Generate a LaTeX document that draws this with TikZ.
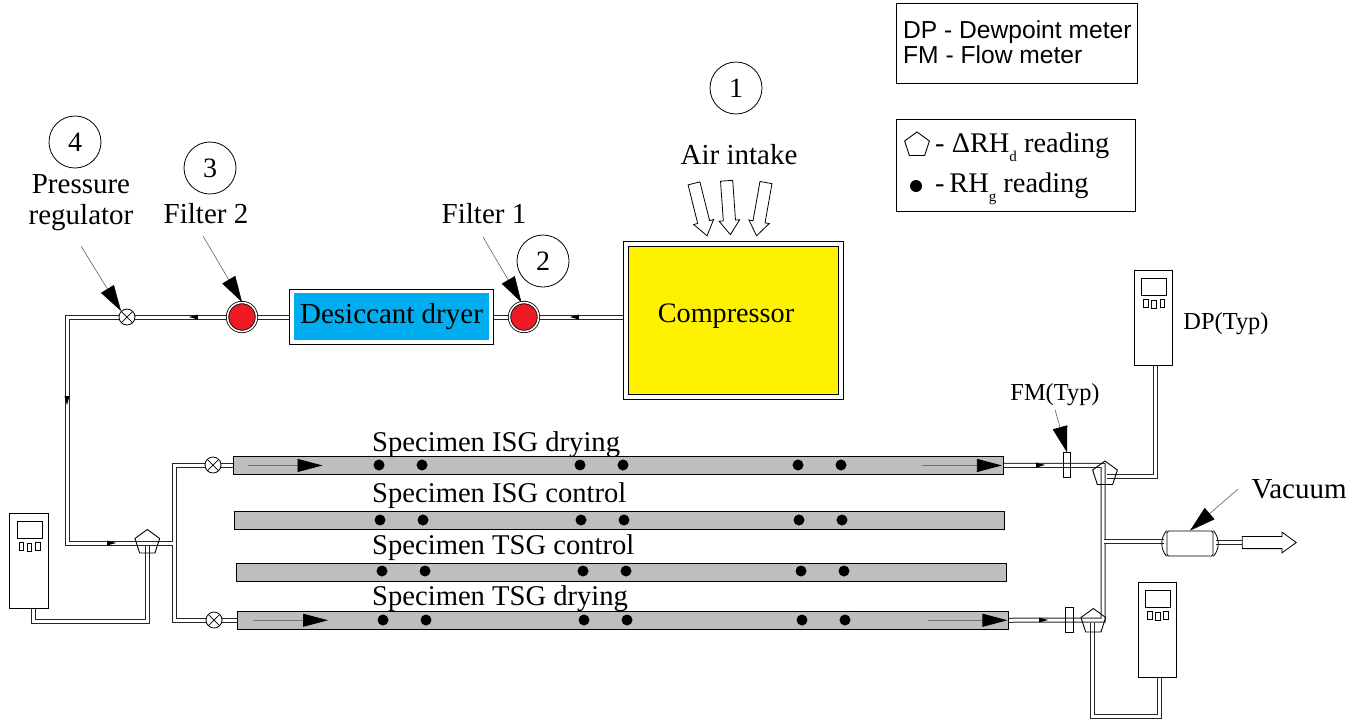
\documentclass[tikz,border=0pt]{standalone}
\usepackage{fontspec}
\setmainfont{Liberation Serif}
\setsansfont{Liberation Sans}
\usetikzlibrary{arrows.meta,shapes.geometric,shapes.arrows,backgrounds}
\definecolor{filterred}{HTML}{ED1C24}
\definecolor{dryerblue}{HTML}{00AEEF}
\definecolor{compyellow}{HTML}{FFF200}
\definecolor{tubegrey}{HTML}{BCBEC0}
\newcommand{\bigtext}{\fontsize{29}{31.5}\selectfont}
\newcommand{\lowsub}[1]{\raisebox{-.32em}{\fontsize{15}{15}\selectfont #1}}
\tikzset{
  every node/.style={font=\bigtext},
  pipe/.style={draw=black!85,line width=1,double=white,double distance=3},
  valve/.style={circle,draw,fill=white,line width=.8,minimum size=16,inner sep=0,
    path picture={\draw[line width=.7] (path picture bounding box.north west)--(path picture bounding box.south east)
      (path picture bounding box.north east)--(path picture bounding box.south west);}},
  filter/.style={circle,draw,fill=filterred,double,double distance=1.6,line width=.8,minimum size=29,inner sep=0},
  numcircle/.style={circle,draw,line width=.8,minimum size=52,inner sep=0,font=\fontsize{28}{30}\selectfont},
  pent/.style={regular polygon,regular polygon sides=5,draw,line width=.9,minimum size=26,inner sep=0},
  specimen/.style={rectangle,draw,line width=.9,fill=tubegrey,anchor=north west,inner sep=0},
  speclabel/.style={anchor=west,inner sep=0,font=\fontsize{28.6}{31}\selectfont},
  meterbox/.style={rectangle,draw,line width=.9,fill=white,minimum width=38.4,minimum height=94.6,inner sep=0,anchor=north west},
  meterpart/.style={rectangle,draw,line width=.9,inner sep=0,anchor=north west},
  flowmeter/.style={rectangle,draw,line width=.7,minimum width=7.4,minimum height=24.6,inner sep=0},
  outarrow/.style={single arrow,draw,line width=.8,fill=white,inner sep=5.7,single arrow head extend=4.2,
    single arrow tip angle=72,minimum height=54},
  flowmark/.style={isosceles triangle,fill=black,inner sep=0,minimum height=9,minimum width=5,isosceles triangle stretches},
  flowline/.style={draw=black!55,line width=.8,-{Triangle[length=25,width=13,color=black]}},
  leader/.style={draw=black!70,line width=.5,-{Triangle[length=26,width=15,color=black]}},
  legendbox/.style={rectangle,draw,line width=.7,anchor=north west,inner sep=0},
  legendtext/.style={anchor=west,inner sep=0,font=\fontsize{28.4}{30}\selectfont}
}
\begin{document}
\begin{tikzpicture}[x=1pt,y=-1pt]
    \useasboundingbox (0,0) rectangle (1367,721);

    \node[legendbox,minimum width=241,minimum height=80] (legA) at (896,3) {};
    \node[anchor=west,inner sep=0,align=left,font=\sffamily\fontsize{24.6}{25}\selectfont] (legAtext) at (903,42) {DP - Dewpoint meter\\FM - Flow meter};
    \node[legendbox,minimum width=239,minimum height=92] (legB) at (896,119) {};
    \node[pent] (legPent) at (917,145) {};
    \node[legendtext] (legTextA) at (935,147) {- ΔRH\lowsub{d} reading};
    \node[circle,fill=black,minimum size=12,inner sep=0] (legDot) at (916,186) {};
    \node[legendtext] (legTextB) at (935,189) {-\,RH\lowsub{g} reading};

    \node[numcircle] (numOne) at (736,88) {1};
    \node[numcircle] (numTwo) at (543,261) {2};
    \node[numcircle] (numThree) at (210,168) {3};
    \node[numcircle] (numFour) at (75,142) {4};

    \node (airLabel) at (739,155) {Air intake};
    \node[align=center] (regLabel) at (81,202.5) {Pressure\\regulator};
    \node (filterTwoLabel) at (206,214) {Filter 2};
    \node (filterOneLabel) at (484,214) {Filter 1};
    \node[font=\fontsize{24.4}{26}\selectfont] (dpLabel) at (1226,324) {DP(Typ)};
    \node[font=\fontsize{24.4}{26}\selectfont] (fmLabel) at (1055,395) {FM(Typ)};
    \node (vacLabel) at (1299,489) {Vacuum};

    \node[rectangle,draw,line width=.8,minimum width=220,minimum height=158,inner sep=0,anchor=north west] (compOuter) at (623,241) {};
    \node[rectangle,draw,line width=.8,fill=compyellow,minimum width=210,minimum height=148,inner sep=0] (compressor) at (compOuter.center) {};
    \node[font=\fontsize{28.2}{30}\selectfont] at (726,316.5) (compText) {Compressor};
    \node[rectangle,draw,line width=.8,minimum width=204,minimum height=55,inner sep=0,anchor=north west] (dryerOuter) at (289,289) {};
    \node[rectangle,fill=dryerblue,minimum width=195,minimum height=47,inner sep=0,font=\fontsize{29}{31}\selectfont] (dryer) at (391.5,316.5) {Desiccant dryer};

    \node[filter] (filterOne) at (524,317) {};
    \node[filter] (filterTwo) at (242,317) {};
    \node[valve] (valveReg) at (127,317) {};
    \node[valve] (valveTop) at (213,465) {};
    \node[valve] (valveBot) at (214,620) {};

    \node[specimen,minimum width=770.5,minimum height=18.6] (specA) at (232.5,455.7) {};
    \node[specimen,minimum width=770.5,minimum height=18.6] (specB) at (233.8,510.7) {};
    \node[specimen,minimum width=770.5,minimum height=18.6] (specC) at (235.5,562.5) {};
    \node[specimen,minimum width=770.5,minimum height=18.6] (specD) at (237,610.5) {};
    \node[speclabel] (labelA) at (372,445) {Specimen ISG drying};
    \node[speclabel] (labelB) at (372,496) {Specimen ISG control};
    \node[speclabel] (labelC) at (372,548) {Specimen TSG control};
    \node[speclabel] (labelD) at (372,599) {Specimen TSG drying};
    \foreach \y/\s in {465/0,520/1,571/3,620/4}
      \foreach \x in {379,422,580,623,798,841}
        \fill (\x+\s,\y) circle (5.5);
    \draw[flowline] ([xshift=15]specA.west) -- ++(75,0);
    \draw[flowline] ([xshift=-82]specA.east) -- ++(80,0);
    \draw[flowline] ([xshift=16]specD.west) -- ++(75,0);
    \draw[flowline] ([xshift=-80]specD.east) -- ++(79,0);

    \foreach \name/\mx/\my in {meterA/9.3/513,meterB/1134/270,meterC/1137.7/582.3}{
      \node[meterbox] (\name) at (\mx,\my) {};
      \node[meterpart,minimum width=25,minimum height=17] (\name scr) at (\mx+7.4,\my+8) {};
      \node[meterpart,minimum width=4.6,minimum height=8] (\name b1) at (\mx+9.4,\my+29) {};
      \node[meterpart,minimum width=4.6,minimum height=8] (\name b2) at (\mx+17.4,\my+30) {};
      \node[meterpart,minimum width=4.6,minimum height=8] (\name b3) at (\mx+25.6,\my+29) {};
    }

    \node[pent] (pentA) at (147.3,542.5) {};
    \node[pent] (pentB) at (1105,474) {};
    \node[pent] (pentC) at (1093.3,621.5) {};
    \node[flowmeter] (fmA) at (1067,465) {};
    \node[flowmeter] (fmB) at (1069.3,620) {};
    \node[rectangle,draw,line width=.8,fill=white,rounded corners=1.5,minimum width=46,minimum height=25,inner sep=0] (pump) at (1190,543.5) {};
    \draw[line width=.8] (pump.north west) to[bend right=40] (pump.south west);
    \draw[line width=.8] (pump.north east) to[bend left=40] (pump.south east);
    \node[outarrow] (outlet) at (1265,542.5) {};
    \node[outarrow,rotate=-76] (airA) at (699.5,205.5) {};
    \node[outarrow,rotate=-86] (airB) at (728.2,203.5) {};
    \node[outarrow,rotate=-100] (airC) at (762,205) {};

    \coordinate (cornerReg) at (67,543);
    \coordinate (teeInlet) at (172.7,543);
    \coordinate (cornerLeft) at (174,620);
    \coordinate (cornerRight) at (1103,620);
    \coordinate (teeVac) at (1104.3,541);
    \coordinate (meterAout) at (33,607.6);
    \coordinate (pentAin) at (147,545);
    \coordinate (meterBout) at (1155.4,364.6);
    \coordinate (pentBin) at (1107,476);
    \coordinate (meterCout) at (1159.5,676.9);
    \coordinate (pentCin) at (1092.4,623);
    \coordinate (leadReg) at (81,246);
    \coordinate (leadTwo) at (203,236);
    \coordinate (leadOne) at (483,237);
    \coordinate (leadVac) at (1238,489);

    \begin{scope}[on background layer]
      \draw[pipe] (filterOne) -- (filterOne -| compOuter.west);
      \draw[pipe] (filterOne) -- (filterOne -| dryerOuter.east);
      \draw[pipe] (filterTwo) -- (filterTwo -| dryerOuter.west);
      \draw[pipe] (filterTwo) -- (valveReg);
      \draw[pipe] (meterAout) -- ++(0,14.2) -| (pentAin);
      \draw[pipe] (valveTop.west) -| (cornerLeft) -- (valveBot.west);
      \draw[pipe] (valveReg.west) -| (cornerReg) -- (teeInlet);
      \draw[pipe] (valveTop) -- (specA.west |- valveTop);
      \draw[pipe] (valveBot) -- (specD.west |- valveBot);
      \draw[pipe] (specA.east) -| (cornerRight) -- (specD.east);
      \draw[pipe] (meterBout) |- (pentBin);
      \draw[pipe] (meterCout) -- ++(0,40) -| (pentCin);
      \draw[pipe,shorten >=3] (teeVac) -- (teeVac -| pump.west);
      \draw[pipe,shorten <=3] (outlet.west -| pump.east) -- (outlet.west);
    \end{scope}

    \node[flowmark,rotate=180] (markA) at (196,317) {};
    \node[flowmark,rotate=180] (markB) at (577,317) {};
    \node[flowmark,rotate=-90] (markC) at (67,398) {};
    \node[flowmark] (markD) at (109,543) {};
    \node[flowmark] (markE) at (1038,465) {};
    \node[flowmark] (markF) at (1041,620) {};

    \draw[leader] (leadReg) -- (valveReg.north west);
    \draw[leader] (leadTwo) -- (filterTwo.north);
    \draw[leader] (leadOne) -- (filterOne.100);
    \draw[leader] (fmLabel.south) -- (fmA.north);
    \draw[leader] (leadVac) -- (pump.north);
\end{tikzpicture}
\end{document}
